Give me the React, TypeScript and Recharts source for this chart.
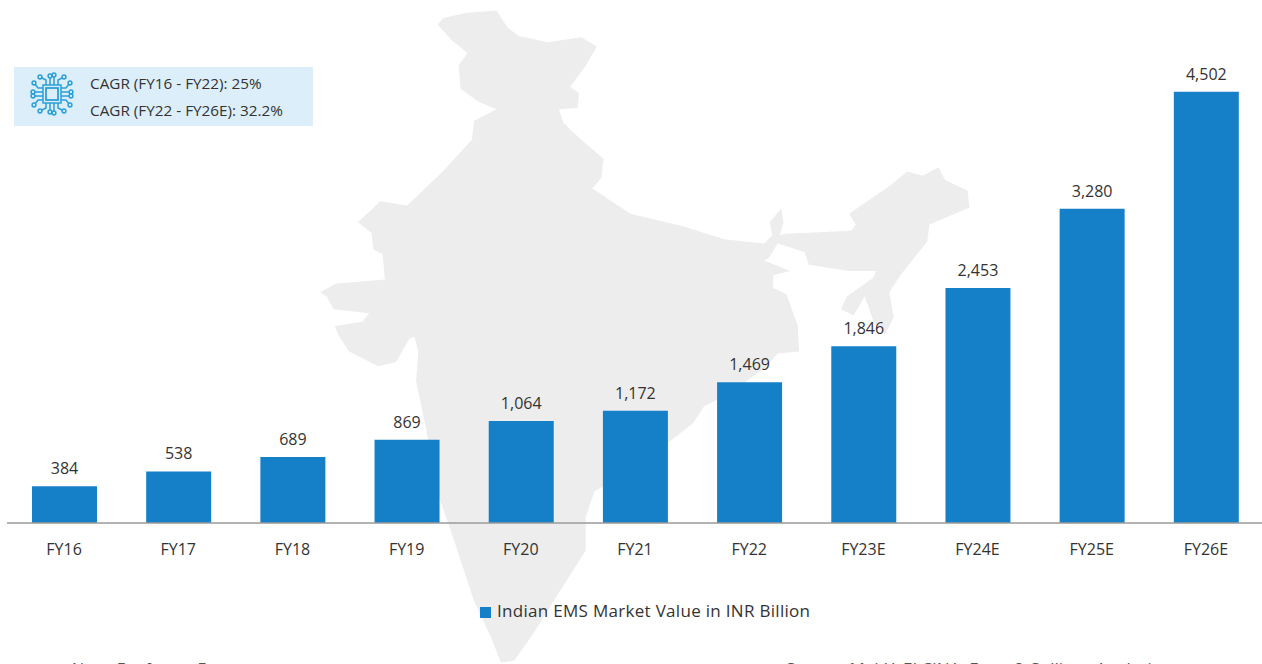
import React from 'react';
import { BarChart, Bar, XAxis, YAxis, LabelList, Legend } from 'recharts';

const categories = ['FY16', 'FY17', 'FY18', 'FY19', 'FY20', 'FY21', 'FY22', 'FY23E', 'FY24E', 'FY25E', 'FY26E'];
const marketValues = [384, 538, 689, 869, 1064, 1172, 1469, 1846, 2453, 3280, 4502];
const seriesName = 'Indian EMS Market Value in INR Billion';
const cagrLines = ['CAGR (FY16 - FY22): 25%', 'CAGR (FY22 - FY26E): 32.2%'];
const rows = categories.map((fy, i) => ({ fy, value: marketValues[i] }));

const FONT = '"Open Sans", sans-serif';
const MAP = 'M308,58 L322,42 L375,30 L440,25 L465,65 L490,85 L555,100 L630,88 L665,110 L640,155 L605,205 L625,220 L622,255 L580,258 L590,290 L625,325 L680,375 L675,420 L655,445 L740,505 L860,535 L950,565 L1040,575 L1058,555 L1052,525 L1078,492 L1083,525 L1075,555 L1090,552 L1235,545 L1245,530 L1230,505 L1320,440 L1360,405 L1395,415 L1430,395 L1445,425 L1495,450 L1500,490 L1410,530 L1405,570 L1375,610 L1345,650 L1320,690 L1330,750 L1310,790 L1285,760 L1265,700 L1240,745 L1212,730 L1225,700 L1285,655 L1290,640 L1230,640 L1140,625 L1130,595 L1070,575 L1050,610 L1040,615 L1098,640 L1060,650 L1060,680 L1090,695 L1115,770 L1118,830 L1070,835 L1040,870 L960,930 L905,960 L880,1000 L825,1045 L780,1090 L660,1160 L640,1220 L640,1300 L580,1400 L520,1500 L480,1560 L450,1565 L430,1510 L390,1420 L340,1260 L310,1170 L280,1000 L260,900 L265,830 L255,790 L270,790 L245,800 L215,855 L175,865 L110,830 L85,790 L78,770 L140,760 L155,740 L75,730 L60,700 L45,690 L80,670 L190,660 L185,600 L165,590 L160,550 L130,525 L180,475 L240,485 L320,405 L385,330 L390,285 L440,258 L400,240 L360,210 L355,155 L375,125 L340,95 Z';

const LEADS: [number, number, number, number, number, number][] = [
  [16, 13, 16, 8, 10, 5], [20, 13, 20, 5, 20, 4], [24, 13, 24, 5, 24, 3], [28, 13, 28, 8, 34, 5],
  [16, 31, 16, 36, 10, 39], [20, 31, 20, 39, 20, 40], [24, 31, 24, 39, 24, 41], [28, 31, 28, 36, 34, 39],
  [13, 16, 8, 16, 4, 11], [13, 20, 5, 20, 3, 20], [13, 24, 5, 24, 3, 24], [13, 28, 8, 28, 4, 33],
  [31, 16, 36, 16, 40, 11], [31, 20, 39, 20, 41, 20], [31, 24, 39, 24, 41, 24], [31, 28, 36, 28, 40, 33],
];

const Chip = () => (
  <svg width={44} height={44} viewBox="0 0 44 44" style={{ position: 'absolute', left: 30, top: 72 }} fill="none" stroke="#2a9fd8" strokeWidth={1.5}>
    <rect x={16} y={16} width={12} height={12} strokeWidth={1.8} />
    <rect x={13} y={13} width={18} height={18} />
    {LEADS.map(([a, b, c, d, e, f]) => (
      <g key={`${a}-${b}`}>
        <path d={`M${a} ${b} L${c} ${d} L${e} ${f}`} />
        <circle cx={e} cy={f} r={1.9} fill="#dceefa" />
      </g>
    ))}
  </svg>
);

export default function App() {
  return (
    <div style={{ position: 'absolute', left: 0, top: 0, width: 1262, height: 664, overflow: 'hidden', background: '#fff', fontFamily: FONT }}>
      <svg width={700} height={664} viewBox="0 0 1568 1568" preserveAspectRatio="none" style={{ position: 'absolute', left: 300, top: 0 }}>
        <path d={MAP} fill="#ededed" />
      </svg>
      <div style={{ position: 'absolute', left: 0, top: 0 }}>
        <BarChart width={1263} height={664} data={rows} margin={{ top: 21, right: 0, bottom: 111, left: 7 }} barSize={65}>
          <XAxis dataKey="fy" interval={0} tickLine={false} axisLine={{ stroke: '#9a9a9a', strokeWidth: 1.5 }} height={30} tick={{ fill: '#333', fontSize: 16, fontFamily: FONT }} tickMargin={15} />
          <YAxis hide domain={[0, 5000]} />
          <Legend
            iconType="square"
            iconSize={11}
            layout="horizontal"
            verticalAlign="top"
            align="left"
            wrapperStyle={{ left: 480, top: 599, width: 360, fontSize: 17, letterSpacing: 0.3, fontFamily: FONT, whiteSpace: 'nowrap' }}
            formatter={(v: string) => <span style={{ color: '#333', marginLeft: 2 }}>{v}</span>}
          />
          <Bar dataKey="value" name={seriesName} fill="#1580c8" isAnimationActive={false}>
            <LabelList dataKey="value" position="top" offset={12} formatter={(v: number) => v.toLocaleString('en-US')} style={{ fill: '#333', fontSize: 16, fontFamily: FONT }} />
          </Bar>
        </BarChart>
      </div>
      <div style={{ position: 'absolute', left: 14, top: 67, width: 299, height: 59, background: '#dceefa' }} />
      <Chip />
      <div style={{ position: 'absolute', left: 90, top: 70, fontSize: 15.3, lineHeight: '27px', color: '#333', whiteSpace: 'nowrap' }}>
        {cagrLines.map((l) => <div key={l}>{l}</div>)}
      </div>
      <div style={{ position: 'absolute', left: 72, top: 659, fontSize: 16, color: '#555', whiteSpace: 'nowrap', lineHeight: '20px' }}>Note: E refers to Est.</div>
      <div style={{ position: 'absolute', left: 786, top: 659, fontSize: 17, color: '#555', whiteSpace: 'nowrap', lineHeight: '20px' }}>Source: MeitY, ELCINA, Frost &amp; Sullivan Analysis</div>
    </div>
  );
}
